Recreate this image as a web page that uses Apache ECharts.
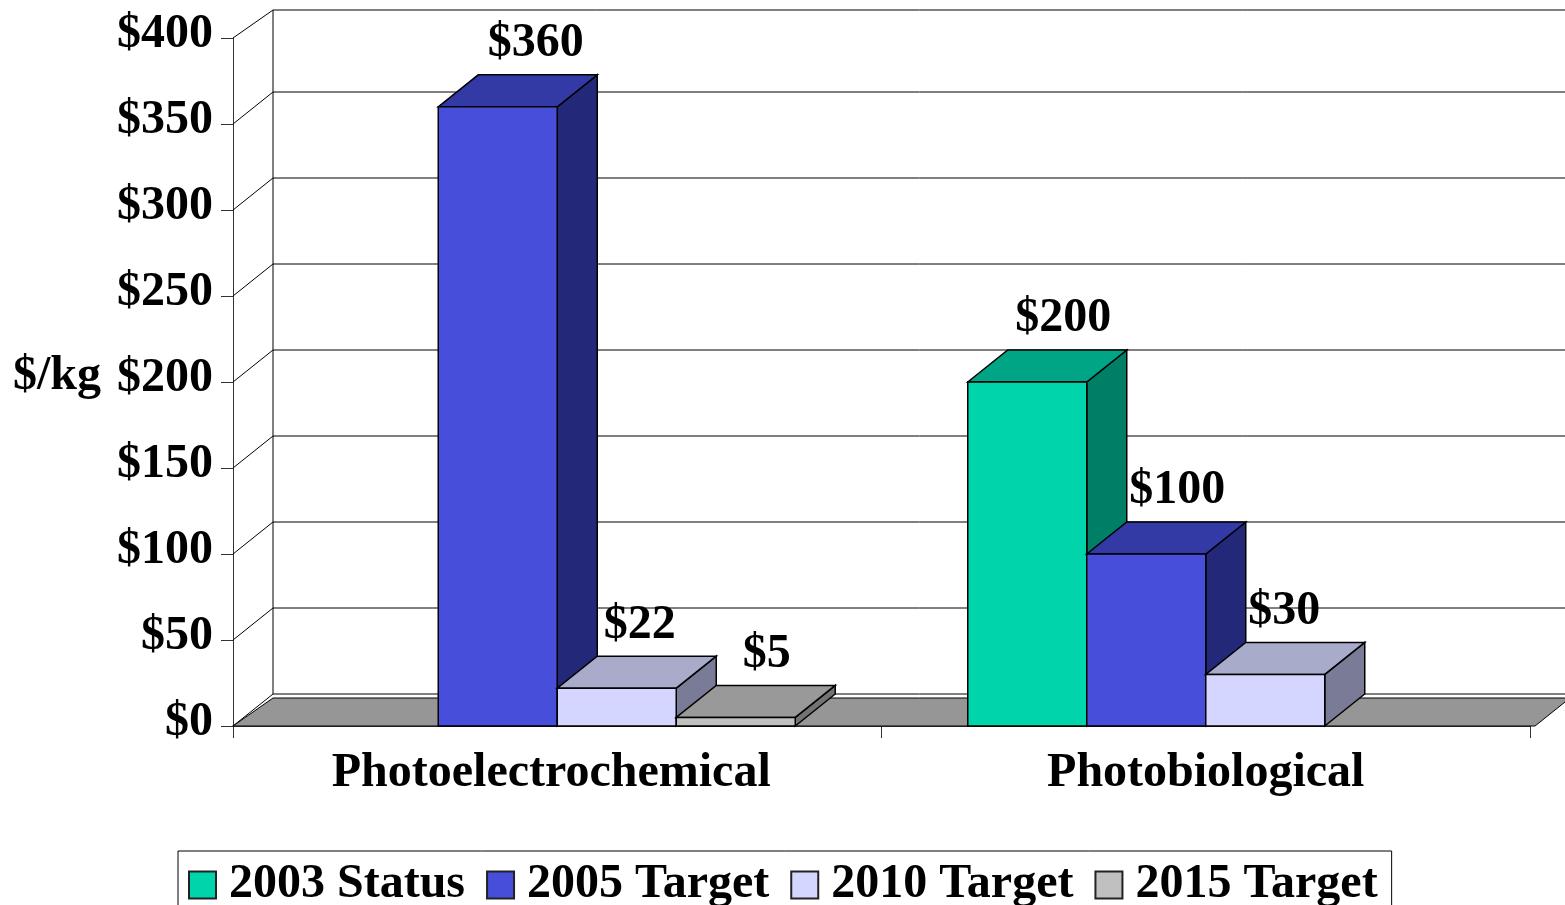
<!DOCTYPE html>
<html>
<head>
<meta charset="utf-8">
<title>Hydrogen cost targets</title>
<style>
  html, body { margin: 0; padding: 0; background: #fff; overflow: hidden; }
  #chart { width: 1565px; height: 905px; }
</style>
<script src="https://cdn.jsdelivr.net/npm/echarts@6/dist/echarts.min.js"></script>
</head>
<body>
<div id="chart"></div>
<script>
const categories = ['Photoelectrochemical', 'Photobiological']
const seriesNames = ['2003 Status', '2005 Target', '2010 Target', '2015 Target']
const status2003 = [null, 200]
const target2005 = [360, 100]
const target2010 = [22, 30]
const target2015 = [5, null]
const yTicks = [0, 50, 100, 150, 200, 250, 300, 350, 400]

const seriesValues = [status2003, target2005, target2010, target2015]
// front, top, side
const shades = [
  ['#00D4AA', '#00A585', '#007F66'],
  ['#464EDA', '#3339A5', '#232878'],
  ['#D4D6FF', '#A9ABCB', '#7A7B96'],
  ['#C0C0C0', '#999999', '#737373']
]
// the labels were moved by hand in the original, [series][category] in px
const labelNudge = [
  [0, 6],
  [8, 1],
  [-7, -11],
  [1, 0]
]

const font = 'Liberation Serif'
const depthX = 40
const depthY = 32
const barShare = 119 / 648.5

const boldText = {
  fontFamily: font,
  fontSize: 48,
  fontWeight: 'bold',
  color: '#000'
}

function poly(points, fill) {
  return {
    type: 'polygon',
    shape: { points },
    style: { fill, stroke: '#000', lineWidth: 1.5 }
  }
}

function renderBar(params, api) {
  const s = params.seriesIndex - 1 // series 0 is the wall
  const cat = api.value(0)
  const val = api.value(1)
  const base = api.coord([cat, 0])
  const top = api.coord([cat, val])
  const w = api.size([1, 0])[0] * barShare
  const x0 = base[0] + (s - 2) * w
  const x1 = x0 + w
  const y0 = base[1]
  const y1 = top[1]
  const c = shades[s]
  return {
    type: 'group',
    children: [
      poly([[x1, y0], [x1 + depthX, y0 - depthY], [x1 + depthX, y1 - depthY], [x1, y1]], c[2]),
      poly([[x0, y1], [x0 + depthX, y1 - depthY], [x1 + depthX, y1 - depthY], [x1, y1]], c[1]),
      poly([[x0, y0], [x1, y0], [x1, y1], [x0, y1]], c[0]),
      {
        type: 'text',
        style: {
          text: '$' + val,
          x: (x0 + x1) / 2 + 30 + labelNudge[s][cat],
          y: y1 - depthY - 31,
          fontFamily: font,
          fontSize: 48,
          fontWeight: 'bold',
          fill: '#000',
          align: 'center',
          verticalAlign: 'middle'
        }
      }
    ]
  }
}

function renderWall(params, api) {
  const sys = params.coordSys
  const tick = api.value(1)
  const y = api.coord([0, tick])[1]
  const left = sys.x
  const right = sys.x + sys.width + depthX
  // the top edge of the back wall sits a little lower in the original
  const dy = tick === yTicks[yTicks.length - 1] ? 28 : depthY
  const children = [{
    type: 'polyline',
    shape: { points: [[left, y], [left + depthX, y - dy], [right, y - dy]] },
    style: { fill: 'none', stroke: '#000', lineWidth: 1 }
  }]
  if (tick === 0) {
    children.push({
      type: 'polygon',
      shape: { points: [[left, y], [left + depthX, y - 28], [right, y - 28], [right - 35, y]] },
      style: { fill: '#969696', stroke: '#000', lineWidth: 1 }
    })
    children.push({
      type: 'line',
      shape: { x1: left + depthX, y1: y - depthY, x2: left + depthX, y2: sys.y - depthY + 4 },
      style: { stroke: '#000', lineWidth: 1 }
    })
  }
  return { type: 'group', children }
}

const chart = echarts.init(document.getElementById('chart'))

chart.setOption({
  animation: false,
  backgroundColor: '#fff',
  grid: { left: 233, right: 35, top: 38, bottom: 179, outerBoundsMode: 'none' },
  legend: {
    data: seriesNames,
    left: 178,
    top: 851,
    padding: [10, 14, 6, 10],
    icon: 'rect',
    itemWidth: 27,
    itemHeight: 27,
    itemGap: 21,
    borderColor: '#000',
    borderWidth: 1,
    backgroundColor: '#fff',
    itemStyle: { borderColor: '#222', borderWidth: 2 },
    textStyle: Object.assign({}, boldText, { padding: [0, 0, 0, 8] })
  },
  xAxis: {
    type: 'category',
    data: categories,
    axisLine: { lineStyle: { color: '#000', width: 1.5 } },
    axisTick: { show: true, interval: 0, length: 12, lineStyle: { color: '#333' } },
    axisLabel: Object.assign({}, boldText, {
      interval: 0,
      hideOverlap: false,
      margin: 24,
      formatter: (v, i) => (i === 0 ? '{first|' + v + '}' : v),
      rich: { first: Object.assign({}, boldText, { padding: [0, 12, 0, 0] }) }
    })
  },
  yAxis: {
    type: 'value',
    min: 0,
    max: 400,
    interval: 50,
    name: '$/kg',
    nameLocation: 'middle',
    nameRotate: 0,
    nameGap: 132,
    nameTextStyle: Object.assign({}, boldText, { verticalAlign: 'bottom', lineHeight: 10 }),
    axisLine: { show: true, lineStyle: { color: '#333', width: 1 } },
    axisTick: { show: true, length: 12, lineStyle: { color: '#333' } },
    splitLine: { show: false },
    axisLabel: Object.assign({}, boldText, {
      margin: 20,
      verticalAlign: 'bottom',
      lineHeight: 6,
      formatter: v => '$' + v
    })
  },
  series: [
    {
      name: 'wall',
      type: 'custom',
      z: 1,
      silent: true,
      renderItem: renderWall,
      data: yTicks.map(t => [0, t])
    }
  ].concat(seriesNames.map((name, s) => ({
    name,
    type: 'custom',
    z: 3,
    itemStyle: { color: shades[s][0] },
    renderItem: renderBar,
    data: seriesValues[s]
      .map((v, c) => [c, v])
      .filter(d => d[1] !== null)
  })))
})
</script>
</body>
</html>
